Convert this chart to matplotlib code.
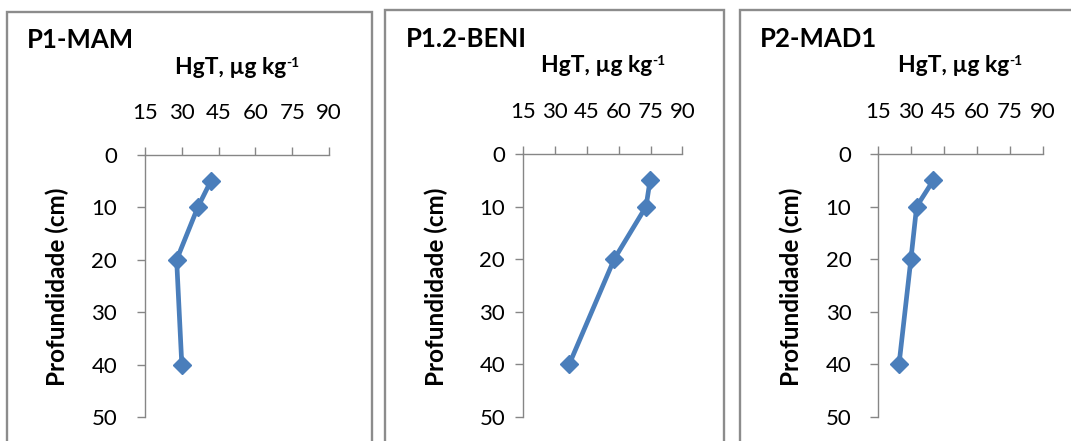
import matplotlib
matplotlib.use("Agg")
import matplotlib.pyplot as plt
from matplotlib.patches import Rectangle

# ---- data ----
depth = [5, 10, 20, 40]
hg_p1_mam = [41.8, 36.5, 27.9, 30.0]
hg_p12_beni = [74.8, 72.9, 57.9, 36.7]
hg_p2_mad1 = [40.3, 32.7, 30.1, 24.7]
titles = ["P1-MAM", "P1.2-BENI", "P2-MAD1"]
x_ticks = [15, 30, 45, 60, 75, 90]
y_ticks = [0, 10, 20, 30, 40, 50]
x_label = "HgT, µg kg"
x_label_sup = "-1"
y_label = "Profundidade (cm)"

W, H = 1071, 441
DPI = 100
plt.rcParams['font.family'] = ['Lato', 'DejaVu Sans']

fig = plt.figure(figsize=(W / DPI, H / DPI), dpi=DPI)
fig.patch.set_facecolor('white')


def fx(px):
    return px / W


def fy(py):
    return 1 - py / H


panels = [
    dict(frame=(7, 12, 372), ax=(145, 155, 329, 417), title=(27, 48),
         xlab=(237, 74), ylab=(57, 287), ypad=14, vals=hg_p1_mam),
    dict(frame=(385, 10, 724), ax=(523.3, 154, 682.3, 416.7), title=(406, 47),
         xlab=(603, 72), ylab=(436, 287), ypad=7, vals=hg_p12_beni),
    dict(frame=(740, 10, 1085), ax=(877.7, 154, 1042.7, 416.7), title=(760, 47),
         xlab=(960, 72), ylab=(791, 287), ypad=13, vals=hg_p2_mad1),
]

line_color = '#4A7EBB'
axis_color = '#868686'

for title, p in zip(titles, panels):
    l, t, r = p['frame']
    rect = Rectangle((fx(l), fy(460)), fx(r) - fx(l), fy(t) - fy(460),
                     transform=fig.transFigure, fill=False,
                     edgecolor='#8C8C8C', linewidth=1.7, clip_on=False)
    fig.patches.append(rect)

    x0, y0, x1, y1 = p['ax']
    ax = fig.add_axes([fx(x0), fy(y1), fx(x1) - fx(x0), fy(y0) - fy(y1)])
    ax.plot(p['vals'], depth, color=line_color, linewidth=3.4,
            marker='D', markersize=9.5, markerfacecolor=line_color,
            markeredgecolor=line_color, clip_on=False)
    ax.set_xlim(15, 90)
    ax.set_ylim(50, 0)
    ax.set_xticks(x_ticks)
    ax.set_yticks(y_ticks)
    ax.xaxis.tick_top()
    for s in ['right', 'bottom']:
        ax.spines[s].set_visible(False)
    for s in ['left', 'top']:
        ax.spines[s].set_color(axis_color)
        ax.spines[s].set_linewidth(1.0)
    ax.tick_params(axis='x', direction='out', length=6, color=axis_color,
                   labelsize=16, pad=17, width=1.0)
    ax.tick_params(axis='y', direction='out', length=6, color=axis_color,
                   labelsize=16, pad=p['ypad'], width=1.0)
    ax.set_facecolor('none')

    fig.text(fx(p['title'][0]), fy(p['title'][1]), title, fontsize=18.5,
             fontweight='bold', ha='left', va='baseline')
    xt = fig.text(fx(p['xlab'][0] - 6), fy(p['xlab'][1]), x_label,
                  fontsize=16.5, fontweight='bold', ha='center', va='baseline')
    ax.annotate(x_label_sup, xy=(1.0, 0.98), xycoords=xt, fontsize=10,
                fontweight='bold', ha='left', va='top',
                annotation_clip=False)
    fig.text(fx(p['ylab'][0]), fy(p['ylab'][1]), y_label, fontsize=17.5,
             fontweight='bold', rotation=90, ha='center', va='center')

fig.savefig('out.png', dpi=DPI, facecolor='white')
